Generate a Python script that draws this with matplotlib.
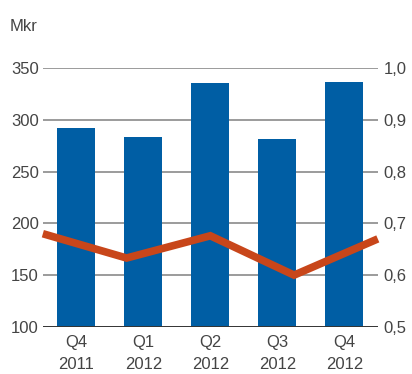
import numpy as np
import matplotlib.pyplot as plt

plt.rcParams['font.family'] = ['Liberation Sans', 'DejaVu Sans']

categories = ["Q4\n2011", "Q1\n2012", "Q2\n2012", "Q3\n2012", "Q4\n2012"]
bar_values = [292, 283, 335.5, 281.5, 336.5]
line_values = [0.68, 0.633, 0.676, 0.60, 0.67]
left_ticks = [100, 150, 200, 250, 300, 350]
right_ticks = [0.5, 0.6, 0.7, 0.8, 0.9, 1.0]
right_labels = ["0,5", "0,6", "0,7", "0,8", "0,9", "1,0"]

fig = plt.figure(figsize=(4.12, 3.74), dpi=100)
ax = fig.add_axes([0.104, 0.126, 0.813, 0.692])

x = np.arange(len(categories))
ax.bar(x, bar_values, width=0.57, color="#005EA4", zorder=2)
ax.set_xlim(-0.5, 4.5)
ax.set_ylim(100, 350)
ax.set_yticks(left_ticks)
for t in left_ticks[1:]:
    ax.axhline(t, color="#8a8a8a", lw=1.2, zorder=1)
ax.axhline(100, color="#333333", lw=1.4, zorder=3)
for s in ax.spines.values():
    s.set_visible(False)
ax.set_xticks(x)
ax.set_xticklabels(categories, fontsize=12, color="#444444", linespacing=1.6)
ax.tick_params(axis="both", length=0, labelsize=12, labelcolor="#444444")
ax.tick_params(axis="y", pad=3)
ax.tick_params(axis="x", pad=6)

ax2 = ax.twinx()
ax2.set_ylim(0.5, 1.0)
ax2.set_yticks(right_ticks)
ax2.set_yticklabels(right_labels)
ax2.tick_params(axis="y", length=0, labelsize=12, labelcolor="#444444", pad=4)
for s in ax2.spines.values():
    s.set_visible(False)
lx = np.linspace(-0.5, 4.5, len(line_values))
ax2.plot(lx, line_values, color="#C8461A", lw=5.5, solid_joinstyle="miter",
         solid_capstyle="butt", clip_on=False, zorder=4)

fig.text(0.024, 0.93, "Mkr", fontsize=12, color="#444444", va="center")

fig.savefig("out.png", dpi=100)
